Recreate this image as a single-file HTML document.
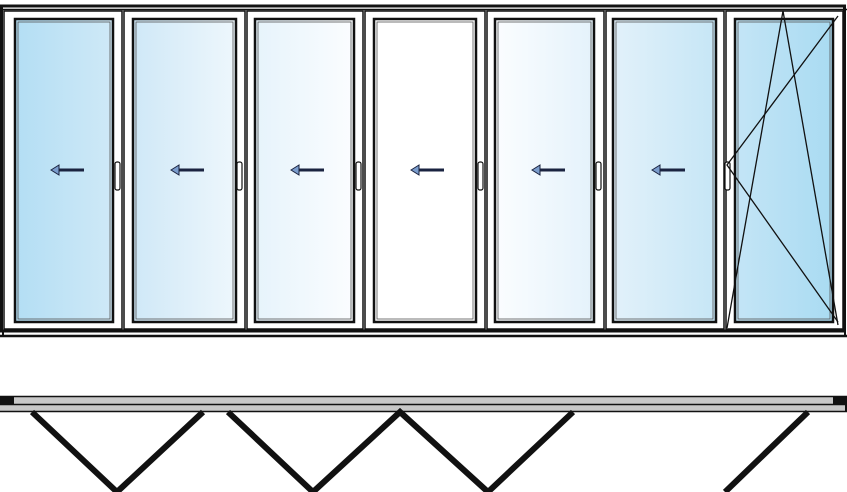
<!DOCTYPE html>
<html><head><style>body{margin:0;background:#fff}svg{display:block}</style></head><body>
<svg width="847" height="492" viewBox="0 0 847 492" xmlns="http://www.w3.org/2000/svg">
<defs>
<linearGradient id="g1"><stop offset="0" stop-color="#b3def4"/><stop offset="1" stop-color="#cfe9f7"/></linearGradient>
<linearGradient id="g2"><stop offset="0" stop-color="#cfe8f7"/><stop offset="1" stop-color="#eef7fc"/></linearGradient>
<linearGradient id="g3"><stop offset="0" stop-color="#e6f3fb"/><stop offset="1" stop-color="#fbfdff"/></linearGradient>
<linearGradient id="g4"><stop offset="0" stop-color="#fff"/><stop offset="1" stop-color="#fff"/></linearGradient>
<linearGradient id="g5"><stop offset="0" stop-color="#fbfdff"/><stop offset="1" stop-color="#e4f2fb"/></linearGradient>
<linearGradient id="g6"><stop offset="0" stop-color="#e2f1fa"/><stop offset="1" stop-color="#c6e6f6"/></linearGradient>
<linearGradient id="g7"><stop offset="0" stop-color="#c4e5f6"/><stop offset="1" stop-color="#a9dbf2"/></linearGradient>
</defs>
<!-- outer frame -->
<rect x="1.5" y="6" width="843" height="325" fill="#fff" stroke="#111" stroke-width="3"/>
<line x1="0" y1="9.5" x2="847" y2="9.5" stroke="#111" stroke-width="1.5"/>
<line x1="0" y1="336" x2="847" y2="336" stroke="#111" stroke-width="2.5"/>
<line x1="3" y1="331" x2="3" y2="336" stroke="#111" stroke-width="2"/>
<line x1="845" y1="331" x2="845" y2="336" stroke="#111" stroke-width="2"/>
<g stroke="#111" fill="none">
<!-- sashes -->
<rect x="4" y="11" width="118" height="318" stroke-width="1.5"/>
<rect x="124" y="11" width="121" height="318" stroke-width="1.5"/>
<rect x="247" y="11" width="116" height="318" stroke-width="1.5"/>
<rect x="365" y="11" width="120" height="318" stroke-width="1.5"/>
<rect x="487" y="11" width="117" height="318" stroke-width="1.5"/>
<rect x="606" y="11" width="118" height="318" stroke-width="1.5"/>
<rect x="726" y="11" width="117" height="318" stroke-width="1.5"/>
</g>
<g stroke="#111" stroke-width="2.5">
<rect x="15" y="19" width="98" height="303" fill="url(#g1)"/>
<rect x="133" y="19" width="103" height="303" fill="url(#g2)"/>
<rect x="255" y="19" width="99" height="303" fill="url(#g3)"/>
<rect x="374" y="19" width="102" height="303" fill="url(#g4)"/>
<rect x="495" y="19" width="99" height="303" fill="url(#g5)"/>
<rect x="613" y="19" width="103" height="303" fill="url(#g6)"/>
<rect x="735" y="19" width="98" height="303" fill="url(#g7)"/>
</g>
<g stroke="#555" stroke-width="0.8" fill="none">
<rect x="18" y="22" width="92" height="297"/><rect x="136" y="22" width="97" height="297"/>
<rect x="258" y="22" width="93" height="297"/><rect x="377" y="22" width="96" height="297"/>
<rect x="498" y="22" width="93" height="297"/><rect x="616" y="22" width="97" height="297"/>
<rect x="738" y="22" width="92" height="297"/>
</g>
<!-- handles -->
<g fill="#fff" stroke="#111" stroke-width="1.2">
<rect x="115" y="162" width="5" height="28" rx="2"/><rect x="237" y="162" width="5" height="28" rx="2"/>
<rect x="356" y="162" width="5" height="28" rx="2"/><rect x="478" y="162" width="5" height="28" rx="2"/>
<rect x="596" y="162" width="5" height="28" rx="2"/><rect x="725" y="162" width="5" height="28" rx="2"/>
</g>
<!-- arrows -->
<g stroke="#1a2340" stroke-width="3">
<line x1="58" y1="170" x2="84" y2="170"/><line x1="178" y1="170" x2="204" y2="170"/>
<line x1="298" y1="170" x2="324" y2="170"/><line x1="418" y1="170" x2="444" y2="170"/>
<line x1="539" y1="170" x2="565" y2="170"/><line x1="659" y1="170" x2="685" y2="170"/>
</g>
<g fill="#7a9ccc" stroke="#1a2340" stroke-width="1">
<polygon points="51,170 59,165 59,175"/><polygon points="171,170 179,165 179,175"/>
<polygon points="291,170 299,165 299,175"/><polygon points="411,170 419,165 419,175"/>
<polygon points="532,170 540,165 540,175"/><polygon points="652,170 660,165 660,175"/>
</g>
<!-- tilt-turn lines -->
<g stroke="#111" stroke-width="1.3" fill="none">
<polyline points="727,328 783,11 838,325"/>
<polyline points="838,16 727,165 838,322"/>
</g>
<!-- track -->
<rect x="0" y="396" width="847" height="16" fill="#c8c8c8"/>
<g stroke="#111"><line x1="0" y1="396.5" x2="847" y2="396.5" stroke-width="1.5"/>
<line x1="0" y1="404.5" x2="847" y2="404.5" stroke-width="1.5"/>
<line x1="0" y1="411.5" x2="847" y2="411.5" stroke-width="1.5"/></g>
<rect x="0" y="396" width="14" height="9" fill="#111"/>
<rect x="833" y="396" width="14" height="9" fill="#111"/>
<rect x="845" y="396" width="2" height="16" fill="#111"/>
<g stroke="#111" stroke-width="6" fill="none">
<polyline points="32,412 117,492 203,412"/>
<polyline points="228,412 313,492 400,412 488,492 573,412"/>
<polyline points="808,412 725,492"/>
</g>
</svg>
</body></html>
